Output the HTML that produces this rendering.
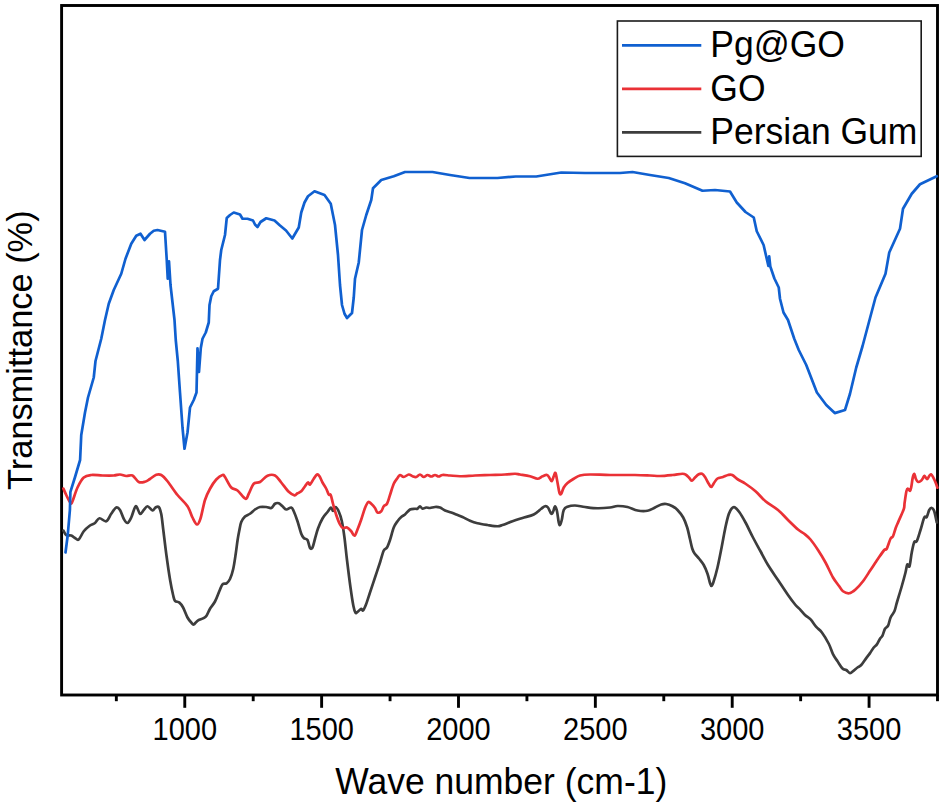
<!DOCTYPE html>
<html><head><meta charset="utf-8"><title>FTIR spectra</title>
<style>
html,body{margin:0;padding:0;background:#fff;}
body{width:944px;height:807px;overflow:hidden;}
svg{display:block;font-family:"Liberation Sans",sans-serif;}
</style></head><body>
<svg width="944" height="807" viewBox="0 0 944 807">
<rect x="0" y="0" width="944" height="807" fill="#fff"/>
<rect x="61.6" y="5.5" width="875.90" height="689.5" fill="none" stroke="#000" stroke-width="2.9" stroke-linejoin="miter"/>
<g fill="none" stroke-linejoin="round" stroke-linecap="round" stroke-width="2.7">
<path d="M63.40,530.60C63.88,531.33 64.94,534.18 66.25,535.00C67.56,535.82 69.79,535.00 71.25,535.50C72.71,536.00 73.75,537.33 75.00,538.00C76.25,538.67 77.29,540.62 78.75,539.50C80.21,538.38 81.88,533.58 83.75,531.25C85.62,528.92 88.12,526.88 90.00,525.50C91.88,524.12 93.42,524.21 95.00,523.00C96.58,521.79 97.62,518.54 99.50,518.25C101.38,517.96 104.29,522.00 106.25,521.25C108.21,520.50 109.58,516.04 111.25,513.75C112.92,511.46 114.79,508.12 116.25,507.50C117.71,506.88 118.75,508.12 120.00,510.00C121.25,511.88 122.50,516.58 123.75,518.75C125.00,520.92 126.25,523.21 127.50,523.00C128.75,522.79 129.88,520.29 131.25,517.50C132.62,514.71 134.29,506.88 135.75,506.25C137.21,505.62 138.67,513.12 140.00,513.75C141.33,514.38 142.50,511.25 143.75,510.00C145.00,508.75 146.04,506.17 147.50,506.25C148.96,506.33 151.17,510.29 152.50,510.50C153.83,510.71 154.46,508.08 155.50,507.50C156.54,506.92 157.79,505.92 158.75,507.00C159.71,508.08 160.49,510.17 161.25,514.00C162.01,517.83 162.44,523.17 163.30,530.00C164.16,536.83 165.27,546.67 166.40,555.00C167.53,563.33 168.98,573.33 170.10,580.00C171.22,586.67 172.28,591.53 173.10,595.00C173.92,598.47 173.95,599.53 175.00,600.80C176.05,602.07 178.05,601.48 179.40,602.60C180.75,603.72 181.75,605.02 183.10,607.50C184.45,609.98 186.14,615.00 187.50,617.50C188.86,620.00 190.21,621.33 191.25,622.50C192.29,623.67 192.71,624.78 193.75,624.50C194.79,624.22 195.88,621.85 197.50,620.80C199.12,619.75 201.97,619.10 203.50,618.20C205.03,617.30 205.62,616.98 206.70,615.40C207.78,613.82 208.62,611.07 210.00,608.75C211.38,606.43 213.43,604.46 215.00,601.50C216.57,598.54 218.15,593.85 219.40,591.00C220.65,588.15 221.32,585.68 222.50,584.40C223.68,583.12 225.25,584.20 226.50,583.30C227.75,582.40 228.88,581.38 230.00,579.00C231.12,576.62 232.25,573.17 233.20,569.00C234.15,564.83 234.97,558.83 235.70,554.00C236.43,549.17 237.00,543.92 237.60,540.00C238.20,536.08 238.69,533.50 239.30,530.50C239.91,527.50 240.30,524.33 241.25,522.00C242.20,519.67 243.54,517.88 245.00,516.50C246.46,515.12 248.33,514.92 250.00,513.75C251.67,512.58 253.33,510.62 255.00,509.50C256.67,508.38 258.12,507.42 260.00,507.00C261.88,506.58 264.38,506.83 266.25,507.00C268.12,507.17 269.79,508.54 271.25,508.00C272.71,507.46 273.75,504.54 275.00,503.75C276.25,502.96 277.50,502.83 278.75,503.25C280.00,503.67 281.25,505.21 282.50,506.25C283.75,507.29 284.79,509.29 286.25,509.50C287.71,509.71 290.00,507.21 291.25,507.50C292.50,507.79 292.71,508.96 293.75,511.25C294.79,513.54 296.25,517.50 297.50,521.25C298.75,525.00 300.21,530.96 301.25,533.75C302.29,536.54 302.71,536.96 303.75,538.00C304.79,539.04 306.46,538.33 307.50,540.00C308.54,541.67 309.17,546.75 310.00,548.00C310.83,549.25 311.67,549.04 312.50,547.50C313.33,545.96 314.08,541.92 315.00,538.75C315.92,535.58 316.75,531.88 318.00,528.50C319.25,525.12 320.92,521.25 322.50,518.50C324.08,515.75 326.08,513.83 327.50,512.00C328.92,510.17 330.08,507.67 331.00,507.50C331.92,507.33 332.25,511.08 333.00,511.00C333.75,510.92 334.54,506.92 335.50,507.00C336.46,507.08 337.70,509.17 338.75,511.50C339.80,513.83 340.86,516.75 341.80,521.00C342.74,525.25 343.53,530.50 344.40,537.00C345.27,543.50 345.98,551.58 347.00,560.00C348.02,568.42 349.43,579.83 350.50,587.50C351.57,595.17 352.57,601.79 353.40,606.00C354.23,610.21 354.82,611.75 355.50,612.75C356.18,613.75 356.54,612.67 357.50,612.00C358.46,611.33 360.33,609.00 361.25,608.75C362.17,608.50 362.21,611.21 363.00,610.50C363.79,609.79 364.83,607.50 366.00,604.50C367.17,601.50 368.50,597.00 370.00,592.50C371.50,588.00 373.33,582.50 375.00,577.50C376.67,572.50 378.54,567.00 380.00,562.50C381.46,558.00 382.58,553.00 383.75,550.50C384.92,548.00 385.96,549.25 387.00,547.50C388.04,545.75 388.88,543.33 390.00,540.00C391.12,536.67 392.50,530.62 393.75,527.50C395.00,524.38 396.25,523.00 397.50,521.25C398.75,519.50 400.00,518.12 401.25,517.00C402.50,515.88 403.54,515.75 405.00,514.50C406.46,513.25 408.33,510.46 410.00,509.50C411.67,508.54 413.75,508.88 415.00,508.75C416.25,508.62 416.67,509.17 417.50,508.75C418.33,508.33 419.17,506.25 420.00,506.25C420.83,506.25 421.46,508.54 422.50,508.75C423.54,508.96 425.00,507.62 426.25,507.50C427.50,507.38 428.54,508.08 430.00,508.00C431.46,507.92 433.33,507.08 435.00,507.00C436.67,506.92 438.33,506.92 440.00,507.50C441.67,508.08 443.12,509.67 445.00,510.50C446.88,511.33 449.38,511.83 451.25,512.50C453.12,513.17 454.38,513.75 456.25,514.50C458.12,515.25 460.21,515.96 462.50,517.00C464.79,518.04 467.50,519.71 470.00,520.75C472.50,521.79 474.58,522.54 477.50,523.25C480.42,523.96 484.17,524.50 487.50,525.00C490.83,525.50 495.00,526.25 497.50,526.25C500.00,526.25 500.00,525.83 502.50,525.00C505.00,524.17 509.17,522.42 512.50,521.25C515.83,520.08 518.96,519.12 522.50,518.00C526.04,516.88 530.62,516.04 533.75,514.50C536.88,512.96 539.38,510.12 541.25,508.75C543.12,507.38 543.88,506.46 545.00,506.25C546.12,506.04 546.96,506.25 548.00,507.50C549.04,508.75 550.38,513.12 551.25,513.75C552.12,514.38 552.62,512.50 553.25,511.25C553.88,510.00 554.38,506.25 555.00,506.25C555.62,506.25 556.38,508.54 557.00,511.25C557.62,513.96 558.25,520.21 558.75,522.50C559.25,524.79 559.50,525.42 560.00,525.00C560.50,524.58 561.12,522.50 561.75,520.00C562.38,517.50 562.79,512.21 563.75,510.00C564.71,507.79 565.62,507.50 567.50,506.75C569.38,506.00 572.08,505.46 575.00,505.50C577.92,505.54 581.25,506.54 585.00,507.00C588.75,507.46 593.33,508.17 597.50,508.25C601.67,508.33 606.67,507.88 610.00,507.50C613.33,507.12 614.58,506.08 617.50,506.00C620.42,505.92 624.17,506.25 627.50,507.00C630.83,507.75 634.17,509.88 637.50,510.50C640.83,511.12 644.58,511.25 647.50,510.75C650.42,510.25 652.71,508.54 655.00,507.50C657.29,506.46 659.38,505.08 661.25,504.50C663.12,503.92 664.38,503.71 666.25,504.00C668.12,504.29 670.62,505.25 672.50,506.25C674.38,507.25 675.72,508.12 677.50,510.00C679.28,511.88 681.58,514.58 683.20,517.50C684.82,520.42 686.08,523.96 687.20,527.50C688.32,531.04 689.05,535.21 689.90,538.75C690.75,542.29 691.52,546.29 692.30,548.75C693.08,551.21 693.45,551.83 694.60,553.50C695.75,555.17 697.68,556.83 699.20,558.75C700.73,560.67 702.37,562.50 703.75,565.00C705.13,567.50 706.46,570.75 707.50,573.75C708.54,576.75 709.35,580.98 710.00,583.00C710.65,585.02 710.85,585.98 711.40,585.90C711.95,585.82 712.28,585.57 713.30,582.50C714.32,579.43 716.12,573.33 717.50,567.50C718.88,561.67 720.28,554.17 721.60,547.50C722.92,540.83 724.20,533.08 725.40,527.50C726.60,521.92 727.73,517.18 728.80,514.00C729.87,510.82 730.83,509.52 731.80,508.40C732.77,507.28 733.36,506.70 734.60,507.30C735.84,507.90 737.43,509.47 739.25,512.00C741.07,514.53 743.21,518.25 745.50,522.50C747.79,526.75 750.50,532.71 753.00,537.50C755.50,542.29 758.00,546.67 760.50,551.25C763.00,555.83 765.08,560.21 768.00,565.00C770.92,569.79 774.67,575.00 778.00,580.00C781.33,585.00 785.08,590.83 788.00,595.00C790.92,599.17 793.50,602.60 795.50,605.00C797.50,607.40 798.42,607.73 800.00,609.40C801.58,611.07 803.23,613.33 805.00,615.00C806.77,616.67 808.73,617.42 810.60,619.40C812.48,621.38 814.37,624.72 816.25,626.90C818.13,629.08 819.82,629.69 821.90,632.50C823.98,635.31 826.88,640.10 828.75,643.75C830.62,647.40 831.64,651.48 833.10,654.40C834.56,657.32 835.93,658.90 837.50,661.25C839.07,663.60 841.04,667.04 842.50,668.50C843.96,669.96 845.00,669.23 846.25,670.00C847.50,670.77 848.75,673.00 850.00,673.10C851.25,673.20 852.50,671.53 853.75,670.60C855.00,669.67 856.25,668.43 857.50,667.50C858.75,666.57 859.79,666.57 861.25,665.00C862.71,663.43 864.79,660.08 866.25,658.10C867.71,656.12 868.75,654.87 870.00,653.10C871.25,651.33 872.60,648.95 873.75,647.50C874.90,646.05 875.86,645.86 876.90,644.40C877.94,642.94 879.07,640.22 880.00,638.75C880.93,637.28 881.67,637.27 882.50,635.60C883.33,633.93 884.07,630.42 885.00,628.75C885.93,627.08 887.17,627.48 888.10,625.60C889.03,623.73 889.55,619.89 890.60,617.50C891.65,615.11 893.35,613.75 894.40,611.25C895.45,608.75 895.67,606.67 896.90,602.50C898.12,598.33 900.32,591.25 901.75,586.25C903.18,581.25 904.58,576.12 905.50,572.50C906.42,568.88 906.58,565.54 907.25,564.50C907.92,563.46 908.75,568.25 909.50,566.25C910.25,564.25 910.96,556.54 911.75,552.50C912.54,548.46 913.42,543.88 914.25,542.00C915.08,540.12 915.71,543.25 916.75,541.25C917.79,539.25 919.25,533.96 920.50,530.00C921.75,526.04 923.21,519.67 924.25,517.50C925.29,515.33 925.92,518.25 926.75,517.00C927.58,515.75 928.42,511.50 929.25,510.00C930.08,508.50 930.92,507.79 931.75,508.00C932.58,508.21 933.42,508.83 934.25,511.25C935.08,513.67 936.33,520.62 936.75,522.50" stroke="#3d3d3d"/>
<path d="M63.40,488.60C63.88,489.67 65.07,492.60 66.25,495.00C67.43,497.40 69.46,501.96 70.50,503.00C71.54,504.04 71.33,503.83 72.50,501.25C73.67,498.67 75.62,491.46 77.50,487.50C79.38,483.54 81.46,479.58 83.75,477.50C86.04,475.42 88.12,475.33 91.25,475.00C94.38,474.67 98.75,475.42 102.50,475.50C106.25,475.58 110.83,475.67 113.75,475.50C116.67,475.33 117.92,474.42 120.00,474.50C122.08,474.58 124.17,475.83 126.25,476.00C128.33,476.17 130.42,474.50 132.50,475.50C134.58,476.50 136.67,480.96 138.75,482.00C140.83,483.04 143.12,482.25 145.00,481.75C146.88,481.25 148.12,480.17 150.00,479.00C151.88,477.83 154.38,475.42 156.25,474.75C158.12,474.08 159.38,473.92 161.25,475.00C163.12,476.08 164.79,477.92 167.50,481.25C170.21,484.58 174.17,490.83 177.50,495.00C180.83,499.17 185.00,502.50 187.50,506.25C190.00,510.00 190.92,514.46 192.50,517.50C194.08,520.54 195.67,524.33 197.00,524.50C198.33,524.67 199.17,522.58 200.50,518.50C201.83,514.42 203.42,504.96 205.00,500.00C206.58,495.04 208.12,492.17 210.00,488.75C211.88,485.33 214.17,481.79 216.25,479.50C218.33,477.21 221.04,475.42 222.50,475.00C223.96,474.58 223.54,474.92 225.00,477.00C226.46,479.08 229.17,485.25 231.25,487.50C233.33,489.75 235.12,488.62 237.50,490.50C239.88,492.38 243.62,498.21 245.50,498.75C247.38,499.29 247.38,496.25 248.75,493.75C250.12,491.25 251.88,485.71 253.75,483.75C255.62,481.79 257.71,483.33 260.00,482.00C262.29,480.67 265.00,476.83 267.50,475.75C270.00,474.67 272.71,474.38 275.00,475.50C277.29,476.62 278.96,479.79 281.25,482.50C283.54,485.21 286.54,489.62 288.75,491.75C290.96,493.88 293.04,495.05 294.50,495.30C295.96,495.55 296.38,493.93 297.50,493.25C298.62,492.57 300.00,492.42 301.25,491.25C302.50,490.08 303.88,487.71 305.00,486.25C306.12,484.79 307.17,482.79 308.00,482.50C308.83,482.21 309.04,485.12 310.00,484.50C310.96,483.88 312.58,480.42 313.75,478.75C314.92,477.08 316.04,474.92 317.00,474.50C317.96,474.08 318.58,474.92 319.50,476.25C320.42,477.58 321.38,480.42 322.50,482.50C323.62,484.58 325.21,486.75 326.25,488.75C327.29,490.75 328.00,493.46 328.75,494.50C329.50,495.54 330.04,493.46 330.75,495.00C331.46,496.54 332.08,500.42 333.00,503.75C333.92,507.08 335.08,511.54 336.25,515.00C337.42,518.46 338.88,522.33 340.00,524.50C341.12,526.67 341.83,527.50 343.00,528.00C344.17,528.50 345.62,526.96 347.00,527.50C348.38,528.04 350.00,529.88 351.25,531.25C352.50,532.62 353.46,536.04 354.50,535.75C355.54,535.46 356.38,532.21 357.50,529.50C358.62,526.79 360.00,523.08 361.25,519.50C362.50,515.92 363.83,510.92 365.00,508.00C366.17,505.08 367.21,502.71 368.25,502.00C369.29,501.29 370.12,502.75 371.25,503.75C372.38,504.75 373.96,506.54 375.00,508.00C376.04,509.46 376.46,511.96 377.50,512.50C378.54,513.04 380.21,512.29 381.25,511.25C382.29,510.21 382.79,507.50 383.75,506.25C384.71,505.00 385.96,505.62 387.00,503.75C388.04,501.88 388.88,498.33 390.00,495.00C391.12,491.67 392.50,486.58 393.75,483.75C395.00,480.92 396.46,479.46 397.50,478.00C398.54,476.54 398.96,475.17 400.00,475.00C401.04,474.83 402.29,477.08 403.75,477.00C405.21,476.92 407.29,474.62 408.75,474.50C410.21,474.38 411.25,475.83 412.50,476.25C413.75,476.67 415.00,477.29 416.25,477.00C417.50,476.71 418.75,474.50 420.00,474.50C421.25,474.50 422.50,476.92 423.75,477.00C425.00,477.08 426.25,475.08 427.50,475.00C428.75,474.92 430.00,476.50 431.25,476.50C432.50,476.50 433.75,475.00 435.00,475.00C436.25,475.00 437.50,476.50 438.75,476.50C440.00,476.50 440.62,475.17 442.50,475.00C444.38,474.83 447.08,475.29 450.00,475.50C452.92,475.71 455.83,476.25 460.00,476.25C464.17,476.25 470.00,475.71 475.00,475.50C480.00,475.29 485.00,475.17 490.00,475.00C495.00,474.83 500.83,474.71 505.00,474.50C509.17,474.29 512.50,473.75 515.00,473.75C517.50,473.75 517.50,474.08 520.00,474.50C522.50,474.92 527.08,475.54 530.00,476.25C532.92,476.96 535.42,478.75 537.50,478.75C539.58,478.75 540.92,476.88 542.50,476.25C544.08,475.62 545.83,474.71 547.00,475.00C548.17,475.29 548.71,476.96 549.50,478.00C550.29,479.04 551.04,481.54 551.75,481.25C552.46,480.96 553.12,477.62 553.75,476.25C554.38,474.88 554.88,471.96 555.50,473.00C556.12,474.04 556.83,479.17 557.50,482.50C558.17,485.83 558.88,491.12 559.50,493.00C560.12,494.88 560.54,494.67 561.25,493.75C561.96,492.83 562.71,489.29 563.75,487.50C564.79,485.71 565.83,484.46 567.50,483.00C569.17,481.54 571.67,480.00 573.75,478.75C575.83,477.50 577.29,476.21 580.00,475.50C582.71,474.79 585.00,474.58 590.00,474.50C595.00,474.42 602.50,474.92 610.00,475.00C617.50,475.08 628.33,474.92 635.00,475.00C641.67,475.08 645.83,475.33 650.00,475.50C654.17,475.67 656.25,476.08 660.00,476.00C663.75,475.92 668.75,475.38 672.50,475.00C676.25,474.62 680.21,473.75 682.50,473.75C684.79,473.75 685.08,474.25 686.25,475.00C687.42,475.75 688.54,477.29 689.50,478.25C690.46,479.21 691.08,480.88 692.00,480.75C692.92,480.62 693.88,478.58 695.00,477.50C696.12,476.42 697.58,474.88 698.75,474.25C699.92,473.62 700.96,473.29 702.00,473.75C703.04,474.21 703.88,475.33 705.00,477.00C706.12,478.67 707.71,482.08 708.75,483.75C709.79,485.42 710.38,487.12 711.25,487.00C712.12,486.88 712.96,484.42 714.00,483.00C715.04,481.58 716.00,479.50 717.50,478.50C719.00,477.50 721.25,477.58 723.00,477.00C724.75,476.42 726.46,475.33 728.00,475.00C729.54,474.67 730.58,474.25 732.25,475.00C733.92,475.75 735.79,478.04 738.00,479.50C740.21,480.96 742.58,481.79 745.50,483.75C748.42,485.71 752.17,488.33 755.50,491.25C758.83,494.17 761.75,498.12 765.50,501.25C769.25,504.38 774.25,506.88 778.00,510.00C781.75,513.12 784.67,516.75 788.00,520.00C791.33,523.25 795.29,527.21 798.00,529.50C800.71,531.79 802.17,532.08 804.25,533.75C806.33,535.42 808.21,536.79 810.50,539.50C812.79,542.21 815.50,546.17 818.00,550.00C820.50,553.83 823.00,557.92 825.50,562.50C828.00,567.08 830.71,573.54 833.00,577.50C835.29,581.46 837.58,583.96 839.25,586.25C840.92,588.54 841.33,590.08 843.00,591.25C844.67,592.42 847.17,593.54 849.25,593.25C851.33,592.96 853.21,591.50 855.50,589.50C857.79,587.50 860.50,584.50 863.00,581.25C865.50,578.00 868.00,573.75 870.50,570.00C873.00,566.25 875.71,562.08 878.00,558.75C880.29,555.42 882.79,551.67 884.25,550.00C885.71,548.33 885.71,550.62 886.75,548.75C887.79,546.88 889.46,540.83 890.50,538.75C891.54,536.67 892.13,538.04 893.00,536.25C893.87,534.46 894.80,530.44 895.70,528.00C896.60,525.56 897.06,524.75 898.40,521.60C899.74,518.45 902.72,512.22 903.75,509.10C904.78,505.98 904.16,505.88 904.60,502.90C905.04,499.92 905.87,493.63 906.40,491.25C906.93,488.87 907.20,488.68 907.80,488.60C908.40,488.53 909.42,491.10 910.00,490.80C910.58,490.50 910.85,488.95 911.30,486.80C911.75,484.65 912.20,480.07 912.70,477.90C913.20,475.73 913.78,473.66 914.30,473.80C914.82,473.94 915.18,477.40 915.80,478.75C916.42,480.10 917.18,481.52 918.00,481.90C918.82,482.27 919.88,481.60 920.70,481.00C921.52,480.40 922.27,479.15 922.90,478.30C923.53,477.45 923.82,475.75 924.50,475.90C925.18,476.05 926.22,479.17 927.00,479.20C927.78,479.23 928.53,476.92 929.20,476.10C929.87,475.28 930.33,474.08 931.00,474.30C931.67,474.52 932.38,475.92 933.20,477.40C934.02,478.88 935.20,481.48 935.90,483.20C936.60,484.92 937.15,486.95 937.40,487.70" stroke="#ea3136"/>
<polyline points="65.50,552.50 67.75,535.00 69.90,510.00 70.40,491.80 74.90,477.50 80.10,460.00 81.25,435.00 85.00,412.50 88.00,397.50 93.75,377.50 95.50,361.00 101.25,338.75 105.00,320.00 108.75,303.75 113.75,290.00 121.25,273.75 125.50,258.75 131.25,243.75 136.25,235.75 140.50,233.75 144.50,240.00 150.00,233.75 153.75,230.75 157.50,230.00 165.00,231.75 166.75,260.00 167.75,278.75 169.00,261.25 170.50,285.00 174.50,320.00 175.75,340.00 177.80,361.00 180.00,392.50 182.50,427.50 184.50,448.75 187.50,432.50 190.00,407.50 193.75,400.00 196.50,392.50 197.50,348.30 199.00,372.00 200.80,348.00 202.50,338.75 205.75,332.50 208.75,322.50 209.50,305.00 211.25,296.25 213.75,291.25 218.00,288.75 220.00,260.00 221.25,250.00 225.00,235.00 226.75,218.00 230.00,215.00 233.75,212.50 240.00,214.50 242.50,218.75 247.50,218.75 253.00,220.50 255.00,224.50 257.50,227.00 260.50,222.00 266.25,218.25 274.50,220.50 280.00,225.50 286.00,230.50 292.30,238.50 298.75,227.50 301.25,212.50 304.50,202.50 308.00,196.25 314.50,191.25 324.50,195.00 330.75,203.75 335.00,225.00 338.00,255.00 340.00,285.00 342.00,305.00 344.50,313.75 347.00,318.00 352.00,313.00 353.75,297.50 355.00,278.75 358.75,262.50 362.00,230.00 366.25,215.00 371.25,200.00 373.00,188.25 381.25,180.00 393.75,176.25 405.00,172.00 432.50,172.00 450.00,175.00 469.50,178.00 497.50,178.00 515.75,176.50 536.25,176.50 561.25,172.50 585.00,173.00 620.00,173.00 632.50,172.00 650.00,175.00 668.75,178.00 685.00,183.25 702.50,190.75 715.00,190.00 730.00,191.50 736.75,202.50 745.50,212.00 753.75,217.50 756.75,231.25 763.60,245.00 768.40,266.00 769.20,256.30 770.30,266.50 774.40,278.50 778.75,287.50 780.00,298.75 783.50,312.50 788.00,320.00 794.25,338.75 798.75,350.00 806.25,365.00 816.90,392.50 826.25,405.00 834.75,413.10 845.00,410.00 850.00,393.75 856.25,367.50 862.50,346.25 865.50,335.00 875.50,297.50 885.50,273.75 889.25,252.50 900.00,228.75 903.00,208.75 911.75,193.75 920.00,184.25 936.75,176.25" stroke="#1060d0"/>
</g>
<line x1="116.34" y1="695" x2="116.34" y2="701.2" stroke="#000" stroke-width="2.9"/>
<line x1="184.77" y1="695" x2="184.77" y2="707.8" stroke="#000" stroke-width="2.9"/>
<line x1="253.20" y1="695" x2="253.20" y2="701.2" stroke="#000" stroke-width="2.9"/>
<line x1="321.63" y1="695" x2="321.63" y2="707.8" stroke="#000" stroke-width="2.9"/>
<line x1="390.06" y1="695" x2="390.06" y2="701.2" stroke="#000" stroke-width="2.9"/>
<line x1="458.49" y1="695" x2="458.49" y2="707.8" stroke="#000" stroke-width="2.9"/>
<line x1="526.92" y1="695" x2="526.92" y2="701.2" stroke="#000" stroke-width="2.9"/>
<line x1="595.35" y1="695" x2="595.35" y2="707.8" stroke="#000" stroke-width="2.9"/>
<line x1="663.78" y1="695" x2="663.78" y2="701.2" stroke="#000" stroke-width="2.9"/>
<line x1="732.21" y1="695" x2="732.21" y2="707.8" stroke="#000" stroke-width="2.9"/>
<line x1="800.64" y1="695" x2="800.64" y2="701.2" stroke="#000" stroke-width="2.9"/>
<line x1="869.07" y1="695" x2="869.07" y2="707.8" stroke="#000" stroke-width="2.9"/>
<line x1="937.50" y1="695" x2="937.50" y2="701.2" stroke="#000" stroke-width="2.9"/>

<g fill="#000">
<text transform="translate(184.77,739.9) scale(1,1.07)" text-anchor="middle" font-size="29">1000</text>
<text transform="translate(321.63,739.9) scale(1,1.07)" text-anchor="middle" font-size="29">1500</text>
<text transform="translate(458.49,739.9) scale(1,1.07)" text-anchor="middle" font-size="29">2000</text>
<text transform="translate(595.35,739.9) scale(1,1.07)" text-anchor="middle" font-size="29">2500</text>
<text transform="translate(732.21,739.9) scale(1,1.07)" text-anchor="middle" font-size="29">3000</text>
<text transform="translate(869.07,739.9) scale(1,1.07)" text-anchor="middle" font-size="29">3500</text>

<text transform="translate(501.3,794.1) scale(1,1.04)" text-anchor="middle" font-size="35.5">Wave number (cm-1)</text>
<text transform="translate(31.6,350.2) rotate(-90) scale(1,1.045)" text-anchor="middle" font-size="34.4">Transmittance (%)</text>
</g>
<rect x="617.4" y="21" width="303.8" height="135.4" fill="#fff" stroke="#1a1a1a" stroke-width="1.6"/>
<g stroke-width="2.7" stroke-linecap="butt">
<line x1="622" y1="45.4" x2="701.3" y2="45.4" stroke="#1060d0"/>
<line x1="622" y1="88.8" x2="701.3" y2="88.8" stroke="#ea3136"/>
<line x1="622" y1="132.4" x2="701.3" y2="132.4" stroke="#3d3d3d"/>
</g>
<g fill="#000" font-size="35.5">
<text transform="translate(710.3,57.3) scale(1,1.04)">Pg@GO</text>
<text transform="translate(710.3,100.8) scale(1,1.04)">GO</text>
<text transform="translate(710.3,144.4) scale(1,1.04)">Persian Gum</text>
</g>
</svg>
</body></html>
